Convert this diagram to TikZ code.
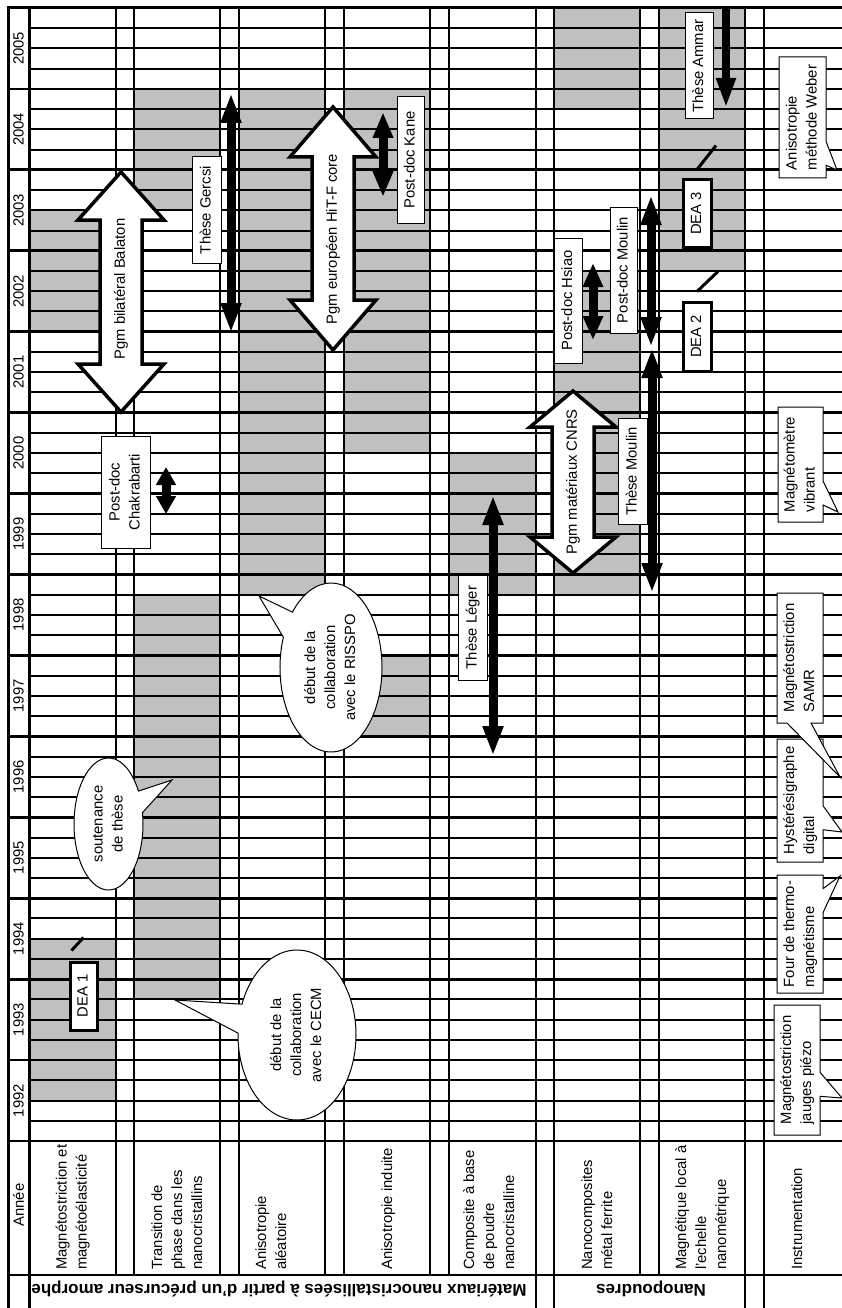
\documentclass[tikz,border=0pt]{standalone}
\usepackage{fontspec}
\setmainfont{Liberation Sans}
\usepackage{graphicx}
\usetikzlibrary{arrows.meta,shapes.geometric,shapes.callouts}
\definecolor{cellgrey}{RGB}{192,192,192}
\newcommand{\labfont}{\fontsize{14.8}{20}\selectfont}
\newcommand{\grpfont}{\fontsize{17}{20}\selectfont\bfseries}
\newcommand{\vlab}[1]{\rotatebox{90}{\begin{tabular}{@{}c@{}}#1\end{tabular}}}
\newcommand{\vlabl}[1]{\rotatebox{90}{\begin{tabular}{@{}l@{}}#1\end{tabular}}}
% name, x, top tip, bottom tip, head length, label y, label
\newcommand{\dblarrow}[7]{%
  \draw[bigarrow] (#2,#3) -- ++(43,#5) -- ++(-22,0) -- (#2+21,#4-#5) -- ++(22,0)
    -- (#2,#4) -- ++(-43,-#5) -- ++(22,0) -- (#2-21,#3+#5) -- ++(-22,0) -- cycle;
  \node[inner sep=0pt] (#1) at (#2,#6) {\rotatebox{90}{#7}};
}
\tikzset{
        shade/.style={fill=cellgrey},
        quarter/.style={line width=2pt},
        yearline/.style={line width=2.8pt},
        border/.style={line width=3pt},
        bigarrow/.style={draw=black, fill=white, line width=3.5pt},
        bararrow/.style={line width=9pt, {Triangle[length=#1,width=19pt]}-{Triangle[length=#1,width=19pt]}},
        bararrow/.default=30pt,
        onebar/.style={line width=8pt, -{Triangle[length=30pt,width=18pt]}},
        labelbox/.style={draw, fill=white, line width=1pt, inner sep=0pt},
        deabox/.style={labelbox, line width=3pt},
        slash/.style={line width=3pt},
        callbox/.style={rectangle callout, draw, fill=white, line width=1pt, inner sep=0pt, callout pointer width=24pt},
        bubble/.style={ellipse callout, draw, fill=white, line width=1pt, inner sep=0pt, callout pointer arc=20},
        header/.style={anchor=south, inner sep=0pt},
        group/.style={font=\grpfont, inner sep=0pt}
          }
\begin{document}
\begin{tikzpicture}[x=1pt, y=-1pt, font=\labfont,
    declare function={qy(\i)=8+\i*20.232;}]
\useasboundingbox (0,0) rectangle (842,1308);
% grey periods: column / first quarter / last quarter
\foreach \c/\a/\b in {0/10/16, 0/46/54, 1/4/10, 1/29/49, 2/4/29, 3/4/22, 3/32/36,
    4/22/29, 5/0/5, 5/13/29, 6/0/13}
  \fill[shade] ({29+105*\c},{qy(\a)}) rectangle ({116+105*\c},{qy(\b)});
% grid
\foreach \q in {1,...,55}
  \draw[quarter] (29,{qy(\q)}) -- (842,{qy(\q)});
\foreach \k in {4,8,...,52}
  \draw[yearline] (8,{qy(\k)}) -- (842,{qy(\k)});
\draw[yearline] (8,1141) -- (842,1141);
\draw[yearline] (8,1275) -- (842,1275);
\foreach \x in {116,134,220,239,325,344,430,449,640,659}
  \draw[quarter] (\x,8) -- (\x,1275);
\foreach \x in {536,554,745,764}
  \draw[quarter] (\x,8) -- (\x,1308);
\draw[border] (8,1308) -- (8,8) -- (842,8);
\draw[border] (29,8) -- (29,1308);
% years
\foreach \yr [count=\k from 0] in {2005,2004,...,1992}
  \node[inner sep=0pt] (y\yr) at (18.5,{qy(4*\k+2)}) {\rotatebox{90}{\yr}};
% headers
\node[inner sep=0pt] (hyear) at (18.5,1205) {\rotatebox{90}{Année}};
\node[header] (hcat1) at (72.5,1270) {\vlabl{Magnétostriction et\\magnétoélasticité}};
\node[header] (hcat2) at (178,1270) {\vlabl{Transition de\\phase dans les\\nanocristallins}};
\node[header] (hcat3) at (272,1270) {\vlabl{Anisotropie\\aléatoire}};
\node[header] (hcat4) at (388,1270) {\vlabl{Anisotropie induite}};
\node[header] (hcat5) at (490,1270) {\vlabl{Composite à base\\de poudre\\nanocristalline}};
\node[header] (hcat6) at (598,1270) {\vlabl{Nanocomposites\\métal ferrite}};
\node[header] (hcat7) at (702,1270) {\vlabl{Magnétique local à\\l'echelle\\nanométrique}};
\node[header] (hcat8) at (798,1270) {\vlabl{Instrumentation}};
\node[group] (gmat) at (279,1289) {\rotatebox{180}{Matériaux nanocristallisées à partir d'un précurseur amorphe}};
\node[group] (gnano) at (651,1289) {\rotatebox{180}{Nanopoudres}};
% programmes
\dblarrow{balaton}{121}{172}{412}{48}{289}{Pgm bilatéral Balaton}
\dblarrow{hitf}{333}{107}{350}{50}{239}{Pgm européen HiT-F core}
\dblarrow{cnrs}{573}{391}{573}{36}{482}{Pgm matériaux CNRS}
% theses and post-docs
\draw[bararrow] (231,93) -- (231,333);
\draw[bararrow=26pt] (383,112) -- (383,197);
\draw[bararrow=24pt] (593,263) -- (593,340);
\draw[bararrow] (651,195) -- (651,347);
\draw[bararrow] (652,348) -- (652,593);
\draw[bararrow=18pt] (166,467) -- (166,514);
\draw[bararrow] (493,495) -- (493,756);
\draw[onebar] (726,8) -- (726,108);
\node[labelbox, minimum width=29, minimum height=106] (gercsi) at (206.5,210) {\vlab{Thèse Gercsi}};
\node[labelbox, minimum width=27, minimum height=126] (kane) at (410.5,160) {\vlab{Post-doc Kane}};
\node[labelbox, minimum width=28, minimum height=106] (ammar) at (699,66) {\vlab{Thèse Ammar}};
\node[labelbox, minimum width=28, minimum height=125] (hsiao) at (568,300.5) {\vlab{Post-doc Hsiao}};
\node[labelbox, minimum width=27, minimum height=126] (pdmoulin) at (623.5,270) {\vlab{Post-doc Moulin}};
\node[labelbox, minimum width=29, minimum height=106] (thmoulin) at (632.5,471.5) {\vlab{Thèse Moulin}};
\node[labelbox, minimum width=29, minimum height=105] (leger) at (472.5,627.5) {\vlab{Thèse Léger}};
\node[labelbox, minimum width=49, minimum height=112] (chakrabarti) at (125.5,492) {\vlab{Post-doc\\Chakrabarti}};
% DEA
\node[deabox, minimum width=28, minimum height=67] (dea3) at (697,213.5) {\vlab{DEA 3}};
\node[deabox, minimum width=28, minimum height=69] (dea2) at (697,336.5) {\vlab{DEA 2}};
\node[deabox, minimum width=27, minimum height=68] (dea1) at (83.5,996) {\vlab{DEA 1}};
\draw[slash] ([yshift=9pt]dea3.north) -- ++(19,-24);
\draw[slash] ([yshift=9pt]dea2.north) -- ++(21,-20);
\draw[slash] ([shift={(-12pt,10pt)}]dea1.north) -- ++(12,-13);
% events
\node[bubble, minimum width=69, minimum height=132, callout absolute pointer={(172,780)}] (soutenance) at (108.5,824) {\vlab{soutenance\\de thèse}};
\node[bubble, minimum width=118, minimum height=170, callout absolute pointer={(175,1000)}] (cecm) at (297,1035) {\vlab{début de la\\collaboration\\avec le CECM}};
\node[bubble, minimum width=102, minimum height=169, callout absolute pointer={(259,596)}] (risspo) at (331,667.5) {\vlab{début de la\\collaboration\\avec le RISSPO}};
% instruments
\node[callbox, minimum width=47, minimum height=121, callout absolute pointer={(837,170)}] (weber) at (802.5,117.5) {\vlabl{Anisotropie\\méthode Weber}};
\node[callbox, minimum width=45, minimum height=115, callout absolute pointer={(838,512)}] (vsm) at (800.5,464.5) {\vlabl{Magnétomètre\\vibrant}};
\node[callbox, minimum width=46, minimum height=123, callout absolute pointer={(842,832)}] (hyst) at (800,800.5) {\vlabl{Hystérésigraphe\\digital}};
\node[callbox, minimum width=46, minimum height=130, callout absolute pointer={(840,777)}] (samr) at (800,658) {\vlabl{Magnétostriction\\SAMR}};
\node[callbox, minimum width=46, minimum height=118, callout absolute pointer={(840,876)}] (four) at (800,934) {\vlabl{Four de thermo-\\magnétisme}};
\node[callbox, minimum width=46, minimum height=130, callout absolute pointer={(842,1098)}] (piezo) at (797,1070) {\vlabl{Magnétostriction\\jauges piézo}};
\end{tikzpicture}
\end{document}
